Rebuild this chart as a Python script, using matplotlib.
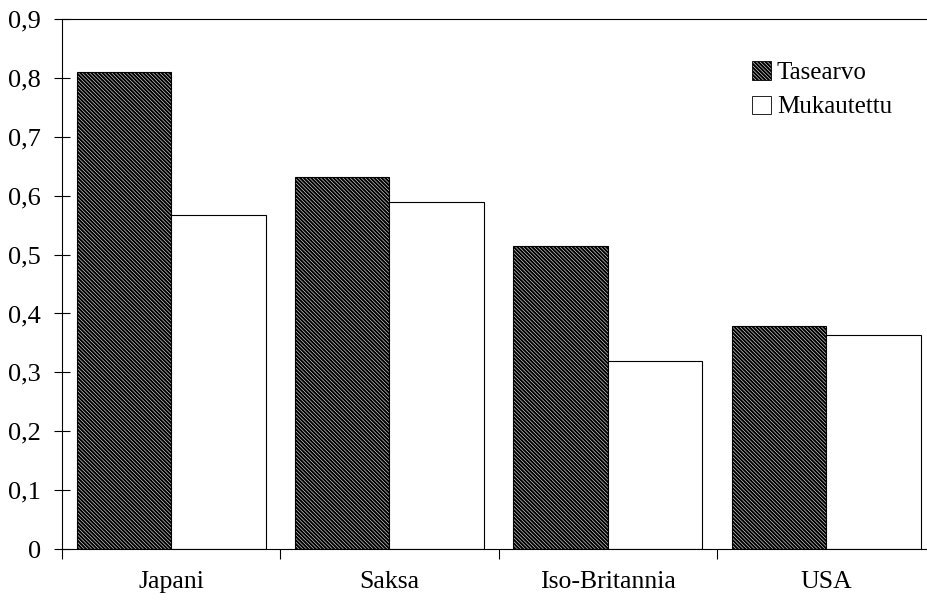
import matplotlib.pyplot as plt
import numpy as np
from matplotlib.patches import Patch

plt.rcParams['font.family'] = ['Liberation Serif', 'DejaVu Serif']
plt.rcParams['hatch.linewidth'] = 1.5

countries = ['Japani', 'Saksa', 'Iso-Britannia', 'USA']
tasearvo = [0.81, 0.632, 0.515, 0.379]
mukautettu = [0.568, 0.590, 0.320, 0.364]
y_ticks = [0, 0.1, 0.2, 0.3, 0.4, 0.5, 0.6, 0.7, 0.8, 0.9]
y_labels = ['0', '0,1', '0,2', '0,3', '0,4', '0,5', '0,6', '0,7', '0,8', '0,9']

dense = '\\' * 9

fig = plt.figure(figsize=(9.27, 6.02), dpi=100)
ax = fig.add_axes([0.0669, 0.088, 0.942, 0.8804])

x = np.arange(len(countries))
w = 0.433
ax.bar(x - w / 2, tasearvo, w, color='white', edgecolor='black', linewidth=0.8,
       hatch=dense, label='Tasearvo')
ax.bar(x + w / 2, mukautettu, w, color='white', edgecolor='black', linewidth=0.8,
       label='Mukautettu')

ax.set_xlim(-0.5, len(countries) - 0.5)
ax.set_ylim(0, 0.9)
ax.set_yticks(y_ticks)
ax.set_yticklabels(y_labels, fontsize=19)
ax.tick_params(axis='y', direction='inout', length=12, width=0.8, pad=9)

# category names centred under the groups, tick marks between the groups
ax.set_xticks(x)
ax.set_xticklabels(countries, fontsize=18.5)
ax.tick_params(axis='x', which='major', length=0, pad=16)
ax.set_xticks(np.arange(-0.5, len(countries) - 0.5), minor=True)
ax.tick_params(axis='x', which='minor', direction='out', length=7, width=0.8)

for side in ['left', 'bottom', 'top', 'right']:
    ax.spines[side].set_linewidth(0.8)

handles = [Patch(facecolor='white', edgecolor='black', hatch=dense, linewidth=0.6),
           Patch(facecolor='white', edgecolor='black', linewidth=0.6)]
ax.legend(handles, ['Tasearvo', 'Mukautettu'], loc='upper left',
          bbox_to_anchor=(0.79, 0.92), frameon=False, fontsize=18,
          handlelength=0.75, handleheight=0.75, handletextpad=0.25,
          labelspacing=0.45, borderpad=0, borderaxespad=0)

fig.savefig('out.png', dpi=100)
